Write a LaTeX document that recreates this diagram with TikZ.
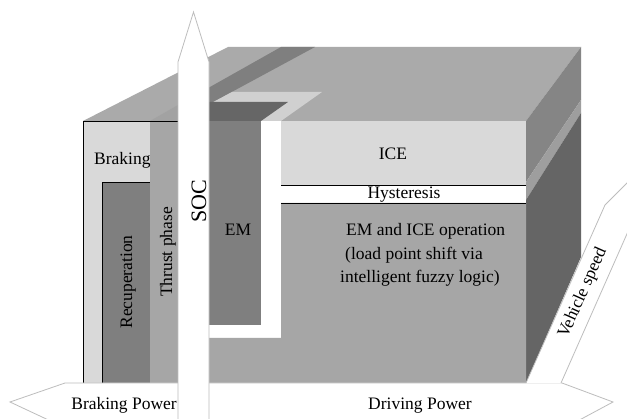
\documentclass[tikz,border=0pt]{standalone}
\usepackage{fontspec}
\setmainfont{Liberation Serif}
\definecolor{cLight}{HTML}{D9D9D9}
\definecolor{cMid}{HTML}{A6A6A6}
\definecolor{cDark}{HTML}{7F7F7F}
\definecolor{cTop}{HTML}{AAAAAA}
\definecolor{cThrTop}{HTML}{A2A2A2}
\definecolor{cEMtop}{HTML}{666666}
\definecolor{cBand}{HTML}{D0D0D0}
\definecolor{cSideA}{HTML}{858585}
\definecolor{cSideB}{HTML}{9E9E9E}
\definecolor{cSideC}{HTML}{656565}
\definecolor{cArrow}{HTML}{BDBDBD}
\tikzset{
  lbl/.style={inner sep=0pt, font=\fontsize{17.5}{21}\selectfont},
  bigarrow/.style={fill=white, draw=cArrow, line width=0.8pt, line join=miter},
  edge/.style={draw=black, line width=0.9pt},
}
\begin{document}
\begin{tikzpicture}[x=1pt, y=-1pt]
\useasboundingbox (0,0) rectangle (627,419);
\clip (0,0) rectangle (627,419);
\fill[white] (0,0) rectangle (627,419);
% ---- top face
\fill[cTop] (83,121) -- (228,47) -- (581,47) -- (526,121) -- cycle;
\fill[cThrTop] (150,121) -- (178,105) -- (178,121) -- cycle;
\fill[cDark] (178,105) -- (281,47) -- (315,47) -- (178,121) -- cycle;
\fill[cBand] (281,121) -- (322,92) -- (232,92) -- (178,121) -- cycle;
\fill[cEMtop] (178,121) -- (210,102) -- (288,102) -- (261,121) -- cycle;
% ---- right face
\fill[cSideA] (526,121) -- (581,47) -- (581,100) -- (526,182) -- cycle;
\fill[cSideB] (526,182) -- (581,100) -- (581,113) -- (526,200) -- cycle;
\fill[cSideC] (526,200) -- (581,113) -- (581,257) -- (526,383) -- cycle;
% ---- front face
\fill[cLight] (83,121) rectangle (150,383);
\fill[cDark] (102,182) rectangle (150,383);
\fill[cMid] (150,121) rectangle (178,383);
\fill[cDark] (178,121) rectangle (261,325);
\fill[cLight] (281,121) rectangle (526,185);
\fill[cMid] (178,338) -- (281,338) -- (281,203) -- (526,203) -- (526,383) -- (178,383) -- cycle;
% black edges
\draw[edge] (83,383) -- (83,121) -- (178,121);
\draw[edge] (102,383) -- (102,182) -- (150,182);
\draw[edge] (281,185) -- (526,185);
\draw[edge] (281,203) -- (526,203);
% ---- arrows
\draw[bigarrow] (57,424) -- (10,402) -- (65,383) -- (562,383) -- (613,402) -- (572,424);
\fill[white] (526,383.5) -- (605,205) -- (637,173) -- (634,218) -- (561,383.5) -- cycle;
\draw[fill=none, draw=cArrow, line width=0.8pt] (526,383) -- (605,205) -- (637,173);
\draw[fill=none, draw=cArrow, line width=0.8pt] (561,383) -- (634,218);
\draw[bigarrow] (178,425) -- (178,62) -- (193.5,12) -- (209,62) -- (209,425);
% ---- labels
\node[lbl, anchor=base west] (braking) at (94,165) {Braking};
\node[lbl, anchor=base] (ice) at (393,160) {ICE};
\node[lbl, anchor=base] (hyst) at (404,199) {Hysteresis};
\node[lbl, anchor=base] (em) at (238,236) {EM};
\node[lbl, anchor=base west] (op1) at (346,236) {EM and ICE operation};
\node[lbl, anchor=base west] (op2) at (345,259.5) {(load point shift via};
\node[lbl, anchor=base west] (op3) at (340,283) {intelligent fuzzy logic)};
\node[lbl, anchor=base, rotate=90] (recup) at (132,282) {Recuperation};
\node[lbl, anchor=base, rotate=90] (thrust) at (172,252) {Thrust phase};
\node[inner sep=0pt, font=\fontsize{22}{26}\selectfont, anchor=base, rotate=90] (soc) at (206,201) {SOC};
\node[lbl, rotate=66] (vspeed) at (583,293) {Vehicle speed};
\node[lbl, anchor=base east] (bpow) at (177,410) {Braking Power};
\node[lbl, anchor=base] (dpow) at (420,410) {Driving Power};
\end{tikzpicture}
\end{document}
